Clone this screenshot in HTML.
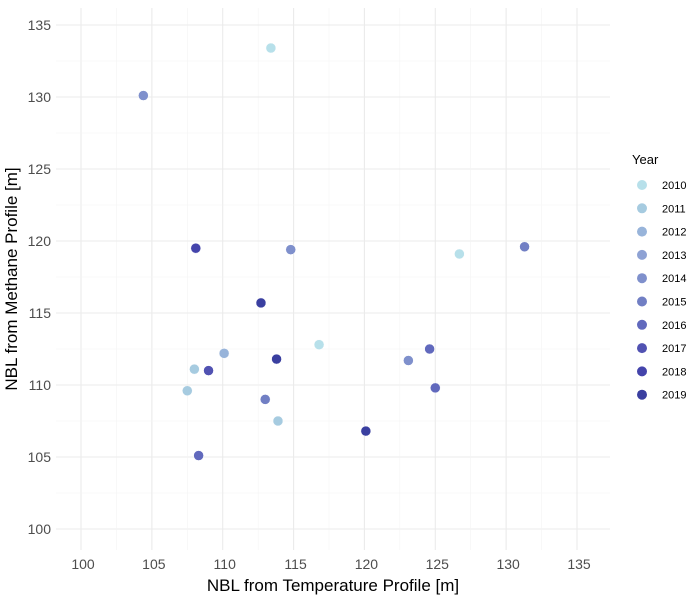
<!DOCTYPE html>
<html><head><meta charset="utf-8"><style>
body{margin:0;background:#fff;font-family:"Liberation Sans",sans-serif}
svg text{font-family:"Liberation Sans",sans-serif}
</style></head><body>
<svg id="chart" width="688" height="597"></svg>
<script>
const xs=[113.4,104.4,108.1,114.8,126.7,131.3,112.7,116.8,110.1,113.8,108.0,109.0,107.5,113.0,123.1,124.6,125.0,113.9,120.1,108.3];
const ys=[133.4,130.1,119.5,119.4,119.1,119.6,115.7,112.8,112.2,111.8,111.1,111.0,109.6,109.0,111.7,112.5,109.8,107.5,106.8,105.1];
const yearsOfPts=[2010,2014,2018,2014,2010,2015,2019,2010,2012,2019,2011,2017,2011,2015,2014,2016,2016,2011,2019,2016];
const legendYears=[2010,2011,2012,2013,2014,2015,2016,2017,2018,2019];
const colors=["#b7e0ea","#a6cbe0","#98b4da","#8ea2d4","#7f90cc","#717fc4","#6169bd","#5152b2","#4444ab","#3a3fa0"];
const xTicks=[100,105,110,115,120,125,130,135];
const yTicks=[100,105,110,115,120,125,130,135];
const NS="http://www.w3.org/2000/svg";
const svg=document.getElementById('chart');
const X=v=>81+(v-100)*(577-81)/35;
const Y=v=>529-(v-100)*(529-25)/35;
const L=56,R=610,T=8,B=550;
function el(t,a,p){const e=document.createElementNS(NS,t);for(const k in a)e.setAttribute(k,a[k]);(p||svg).appendChild(e);return e;}
const grid=el('g',{});


for(let v=97.5;v<=137.5;v+=2.5){const major=v%5===0;
 const x=X(v);if(x>=L&&x<=R)el('line',{x1:x,x2:x,y1:T,y2:B,stroke:major?'#ebebeb':'#f4f4f4','stroke-width':major?1.1:0.6},grid);
 const y=Y(v);if(y>=T&&y<=B)el('line',{y1:y,y2:y,x1:L,x2:R,stroke:major?'#ebebeb':'#f4f4f4','stroke-width':major?1.1:0.6},grid);}
xTicks.forEach(v=>{const t=el('text',{x:X(v)+2,y:569,'text-anchor':'middle','font-size':14,fill:'#4d4d4d'});t.textContent=v;
 
 });
yTicks.forEach(v=>{const t=el('text',{x:51,y:Y(v)+5,'text-anchor':'end','font-size':14,fill:'#4d4d4d'});t.textContent=v;
 
 });
let t=el('text',{x:333,y:591,'text-anchor':'middle','font-size':17,fill:'#000'});t.textContent='NBL from Temperature Profile [m]';


t=el('text',{x:0,y:0,'text-anchor':'middle','font-size':17,fill:'#000',transform:'translate(17,279) rotate(-90)'});t.textContent='NBL from Methane Profile [m]';


xs.forEach((v,i)=>{const c=el('circle',{cx:X(v),cy:Y(ys[i]),r:5,fill:colors[legendYears.indexOf(yearsOfPts[i])],stroke:'#fff','stroke-width':0.5});
 
 });
t=el('text',{x:632,y:164,'font-size':13,fill:'#000'});t.textContent='Year';


legendYears.forEach((yr,i)=>{const g=el('g',{});
 
 
 const cy=185+i*23.3;
 el('circle',{cx:642,cy:cy,r:5,fill:colors[i]},g);
 const tt=el('text',{x:662,y:cy+4,'font-size':11,fill:'#000'},g);tt.textContent=yr;});
</script>
</body></html>
